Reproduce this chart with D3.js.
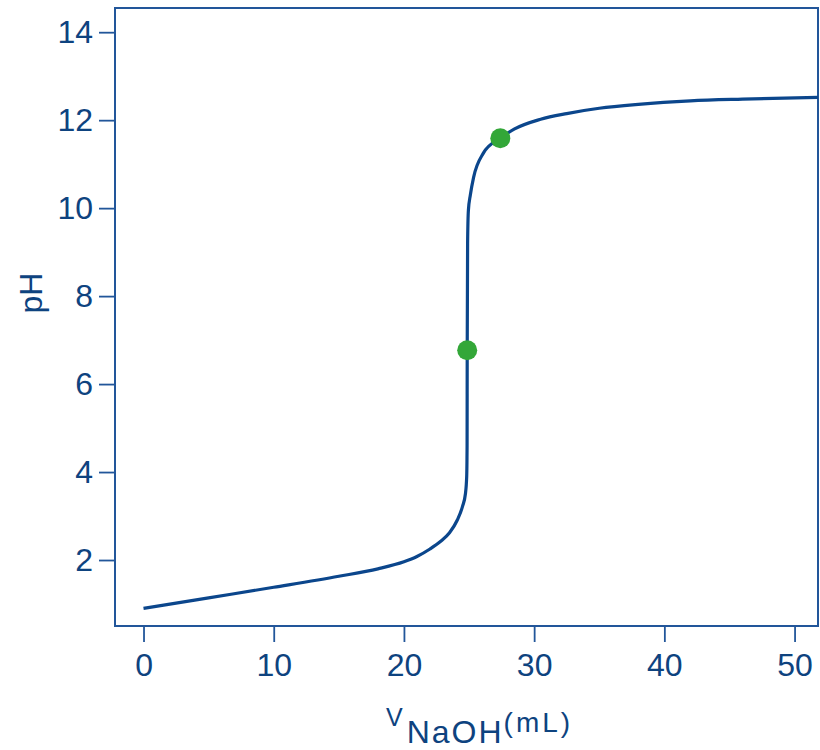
<!DOCTYPE html>
<html>
<head>
<meta charset="utf-8">
<script src="https://cdn.jsdelivr.net/npm/d3@7"></script>
<style>
  body { margin: 0; background: #fff; }
  text { font-family: "Liberation Sans", Arial, sans-serif; fill: #0e437f; }
</style>
</head>
<body>
<svg id="chart"></svg>
<script>
// titration curve
const volume = [0, 5, 10, 15, 18, 20, 21, 22, 22.8, 23.5, 24.1, 24.5, 24.72, 24.82, 24.85, 24.86, 24.89, 24.95, 25.1, 25.35, 26.1, 27.4, 28.5, 30.5, 32.5, 35, 38, 42, 46, 52];
const pH = [0.9, 1.14, 1.38, 1.63, 1.8, 1.96, 2.08, 2.25, 2.42, 2.62, 2.91, 3.22, 3.5, 3.9, 4.6, 6.77, 9.2, 9.95, 10.3, 10.7, 11.25, 11.59, 11.8, 12.02, 12.15, 12.27, 12.36, 12.44, 12.48, 12.52];
// marked points
const markVolume = [24.86, 27.4];
const markPH = [6.77, 11.59];
const xTicks = [0, 10, 20, 30, 40, 50];
const yTicks = [2, 4, 6, 8, 10, 12, 14];

const width = 820;
const height = 750;
const plotLeft = 115, plotRight = 818, plotTop = 8, plotBottom = 626;

const svg = d3.select('#chart')
    .attr('width', width)
    .attr('height', height);

const x = d3.scaleLinear().domain([-2.19, 51.8]).range([plotLeft, plotRight]);
const y = d3.scaleLinear().domain([0.5, 14.55]).range([plotBottom, plotTop]);

const axisColor = '#22569a';

svg.append('defs').append('clipPath').attr('id', 'clip')
    .append('rect')
    .attr('x', plotLeft).attr('y', plotTop)
    .attr('width', plotRight - plotLeft).attr('height', plotBottom - plotTop);

// x axis
const gx = svg.append('g')
    .attr('transform', `translate(0,${plotBottom})`)
    .call(d3.axisBottom(x).tickValues(xTicks).tickSize(16).tickPadding(11));
gx.select('.domain').remove();

// y axis
const gy = svg.append('g')
    .attr('transform', `translate(${plotLeft},0)`)
    .call(d3.axisLeft(y).tickValues(yTicks).tickSize(16).tickPadding(6));
gy.select('.domain').remove();

svg.selectAll('.tick line').attr('stroke', axisColor).attr('stroke-width', 1.8);
svg.selectAll('.tick text')
    .attr('fill', '#0e437f')
    .style('font-size', '32px')
    .style('font-family', '"Liberation Sans", Arial, sans-serif');

// frame
svg.append('rect')
    .attr('x', plotLeft).attr('y', plotTop)
    .attr('width', plotRight - plotLeft).attr('height', plotBottom - plotTop)
    .attr('fill', 'none')
    .attr('stroke', axisColor)
    .attr('stroke-width', 2);

const line = d3.line()
    .x(i => x(volume[i]))
    .y(i => y(pH[i]))
    .curve(d3.curveMonotoneX);

svg.append('path')
    .attr('clip-path', 'url(#clip)')
    .attr('d', line(d3.range(volume.length)))
    .attr('fill', 'none')
    .attr('stroke', '#0b468c')
    .attr('stroke-width', 3.2);

svg.selectAll('circle.mark')
    .data(d3.range(markVolume.length))
    .enter().append('circle')
    .attr('class', 'mark')
    .attr('cx', i => x(markVolume[i]))
    .attr('cy', i => y(markPH[i]))
    .attr('r', 10)
    .attr('fill', '#33a738');

// axis titles
svg.append('text')
    .attr('transform', 'translate(42,293) rotate(-90)')
    .attr('text-anchor', 'middle')
    .style('font-size', '32px')
    .text('pH');

const xt = svg.append('text')
    .attr('x', 386)
    .attr('y', 726);
xt.append('tspan').style('font-size', '25px').text('V');
xt.append('tspan').attr('dy', 17).attr('dx', 4).style('font-size', '32px').style('letter-spacing', '2px').text('NaOH');
xt.append('tspan').attr('dy', -11).style('font-size', '28px').style('letter-spacing', '3px').text('(mL)');
</script>
</body>
</html>
